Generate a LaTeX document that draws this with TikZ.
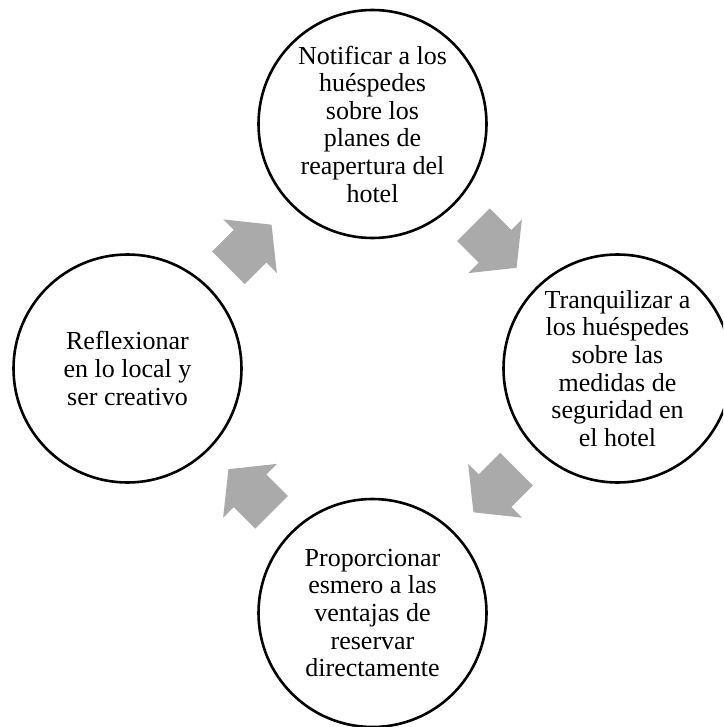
\documentclass[tikz,border=0pt]{standalone}
\usepackage{fontspec}
\setmainfont{Liberation Serif}
\usetikzlibrary{calc}
\definecolor{arrowgray}{RGB}{170,170,170}
\newcommand\cyclearrow[2]{%
  \begin{scope}[shift={#1},rotate=#2]
    \fill[blockarrow] (-30.5,-23) -- (0,-23) -- (0,-38) -- (30.5,0) -- (0,38) -- (0,23) -- (-30.5,23) -- cycle;
  \end{scope}}
\begin{document}
\begin{tikzpicture}[x=1pt,y=-1pt,
  stage/.style={circle, draw=black, line width=2.6pt, minimum size=228pt, inner sep=0pt,
    align=center, font=\fontsize{26}{27.6}\selectfont},
  blockarrow/.style={fill=arrowgray}]
\useasboundingbox (0,0) rectangle (723,727);
\clip (0,0) rectangle (723,727);
\node[stage] (n1) at (372.5,124) {Notificar a los\\huéspedes\\sobre los\\planes de\\reapertura del\\hotel};
\node[stage] (n2) at (617.5,368.5) {Tranquilizar a\\los huéspedes\\sobre las\\medidas de\\seguridad en\\el hotel};
\node[stage] (n3) at (372.5,613) {Proporcionar\\esmero a las\\ventajas de\\reservar\\directamente};
\node[stage] (n4) at (127.5,368.5) {Reflexionar\\en lo local y\\ser creativo};
\cyclearrow{($(n1)!0.5!(n2)$)}{-45}
\cyclearrow{($(n2)!0.5!(n3)$)}{-135}
\cyclearrow{($(n3)!0.5!(n4)$)}{135}
\cyclearrow{($(n4)!0.5!(n1)$)}{45}
\end{tikzpicture}
\end{document}
